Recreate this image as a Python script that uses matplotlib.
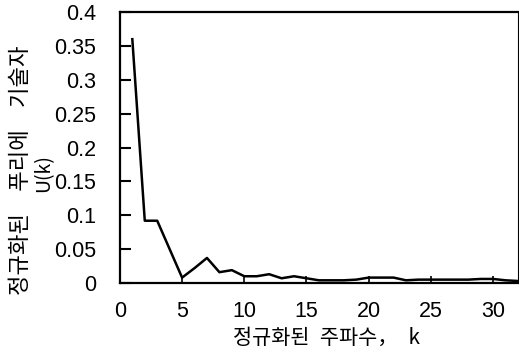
import matplotlib.pyplot as plt

# normalized frequency k and normalized Fourier descriptor U(k)
k = list(range(1, 33))
u_k = [0.36, 0.092, 0.092, 0.05, 0.008, 0.022, 0.037, 0.016, 0.019, 0.010,
       0.010, 0.013, 0.007, 0.010, 0.007, 0.004, 0.004, 0.004, 0.005, 0.008,
       0.008, 0.008, 0.004, 0.005, 0.005, 0.005, 0.005, 0.005, 0.006, 0.006,
       0.004, 0.003]
xticks = [0, 5, 10, 15, 20, 25, 30]
yticks = [0, 0.05, 0.1, 0.15, 0.2, 0.25, 0.3, 0.35, 0.4]
ytick_labels = ['0', '0.05', '0.1', '0.15', '0.2', '0.25', '0.3', '0.35', '0.4']

plt.rcParams['font.family'] = ['Liberation Sans', 'Noto Sans CJK KR', 'DejaVu Sans']
kr = ['Noto Sans CJK KR', 'DejaVu Sans']

fig = plt.figure(figsize=(5.19, 3.56), dpi=100)
ax = fig.add_axes([0.231, 0.205, 0.767, 0.761])

ax.plot(k, u_k, color='black', linewidth=1.8)

ax.set_xlim(0, 32)
ax.set_ylim(0, 0.4)
ax.set_xticks(xticks)
ax.set_yticks(yticks)
ax.set_yticklabels(ytick_labels)
ax.tick_params(axis='both', direction='in', labelsize=15.5, colors='black')
ax.tick_params(axis='y', length=8, width=1.5, pad=17)
ax.tick_params(axis='x', length=5, width=1.2, pad=13)
for s in ax.spines.values():
    s.set_linewidth(1.6)
ax.spines['right'].set_linewidth(0.8)

ax.set_xlabel('정규화된\u2002주파수，\u2002k', fontsize=15, family=kr)
ax.xaxis.set_label_coords(0.52, -0.16)
fig.text(0.039, 0.522, '정규화된\u3000푸리에\u3000기술자', rotation=90, fontsize=16,
         family=kr, ha='center', va='center')
fig.text(0.085, 0.514, 'U(k)', rotation=90, fontsize=14,
         family=kr, ha='center', va='center')

fig.savefig('out.png', dpi=100)
